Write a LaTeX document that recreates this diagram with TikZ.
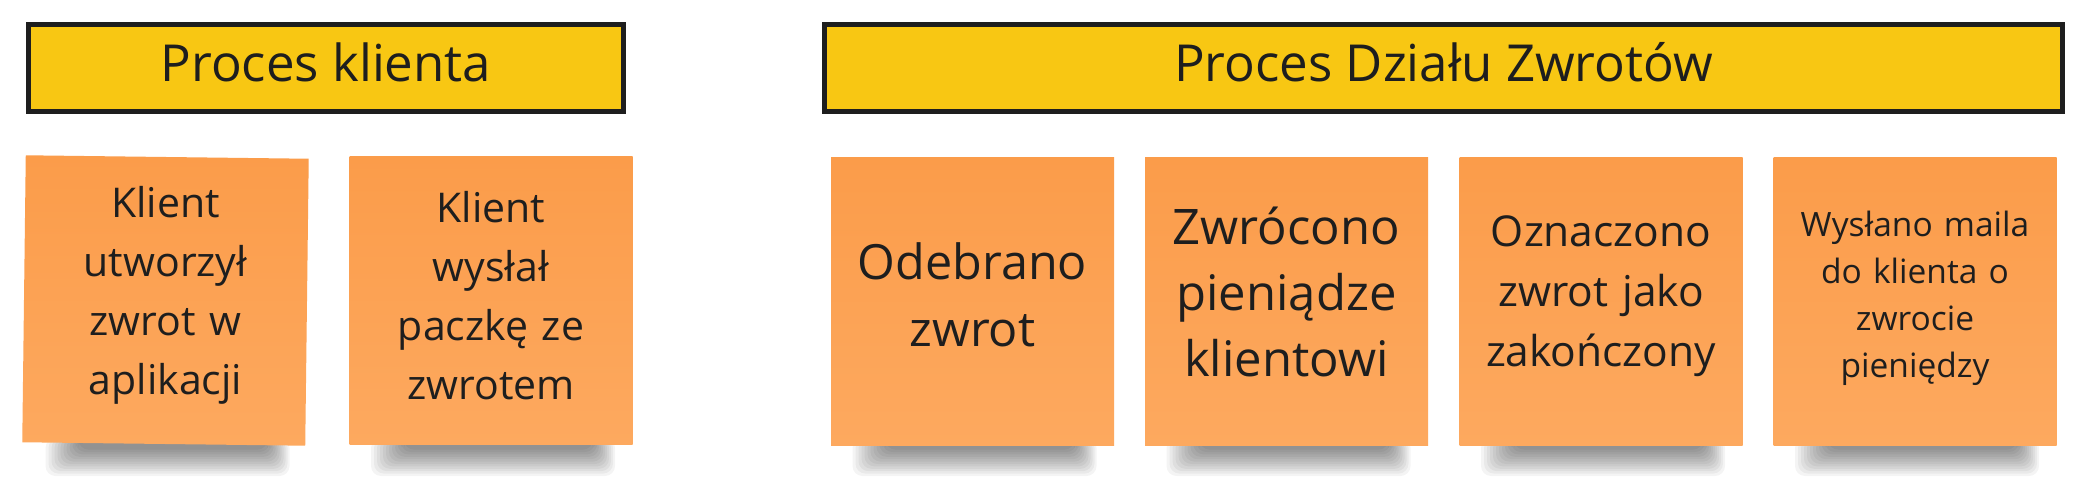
\documentclass[tikz,border=0pt]{standalone}
\usepackage{fontspec}
\setmainfont{Open Sans}
\definecolor{hdrfill}{HTML}{F8C713}
\definecolor{hdrline}{HTML}{1E1E1E}
\definecolor{notetop}{HTML}{FB9C4A}
\definecolor{notebot}{HTML}{FDA95F}
\definecolor{txt}{HTML}{1E1E1E}
\tikzset{
  header/.style={draw=hdrline, line width=5pt, fill=hdrfill, inner sep=0pt, minimum height=87pt},
  hdrtext/.style={anchor=base, text=txt, font=\fontsize{51}{60}\selectfont, inner sep=0pt},
  note/.style={minimum width=283pt, minimum height=287pt, inner sep=0pt, top color=notetop, bottom color=notebot},
  notetext/.style={text=txt, align=center, text width=275pt, inner sep=0pt},
  shadowlayer/.style={fill=black, opacity=0.042, rounded corners=10pt}
}
\begin{document}
\begin{tikzpicture}[x=1pt,y=-1pt]
\useasboundingbox[fill=white] (0,0) rectangle (2090,478);
% shadows
\foreach \cx in {165.5,491,972.5,1286.5,1601,1915}{
  \foreach \i in {0,...,11}{
    \fill[shadowlayer] (\cx-120+3*\i, 438) rectangle (\cx+124-2*\i, 476-2.4*\i);
  }
}
% headers
\node[header, minimum width=595pt] (h1) at (326,68) {};
\node[hdrtext] (t1) at (326,82) {Proces klienta};
\node[header, minimum width=1238pt] (h2) at (1443.5,68) {};
\node[hdrtext] (t2) at (1443.5,82) {Proces Działu Zwrotów};
% notes
\node[note, rotate=-0.7] (n1) at (165.5,300.5) {};
\node[note] (n2) at (491,300.5) {};
\node[note] (n3) at (972.5,301.5) {};
\node[note] (n4) at (1286.5,301.5) {};
\node[note] (n5) at (1601,301.5) {};
\node[note] (n6) at (1915,301.5) {};
% note texts
\node[notetext, font=\fontsize{41}{59}\selectfont] (n1t) at ([yshift=5pt]n1.center) {Klient\\utworzył\\zwrot w\\aplikacji};
\node[notetext, font=\fontsize{41}{59}\selectfont] (n2t) at ([yshift=5pt]n2.center) {Klient\\wysłał\\paczkę ze\\zwrotem};
\node[notetext, font=\fontsize{48.5}{67}\selectfont] (n3t) at ([yshift=7pt]n3.center) {Odebrano\\zwrot};
\node[notetext, font=\fontsize{49}{66}\selectfont] (n4t) at ([yshift=10pt]n4.center) {Zwrócono\\pieniądze\\klientowi};
\node[notetext, font=\fontsize{42.5}{60}\selectfont] (n5t) at ([yshift=5pt]n5.center) {Oznaczono\\zwrot jako\\zakończony};
\node[notetext, font=\fontsize{33.5}{47}\selectfont] (n6t) at ([yshift=3pt]n6.center) {Wysłano maila\\do klienta o\\zwrocie\\pieniędzy};
\end{tikzpicture}
\end{document}
